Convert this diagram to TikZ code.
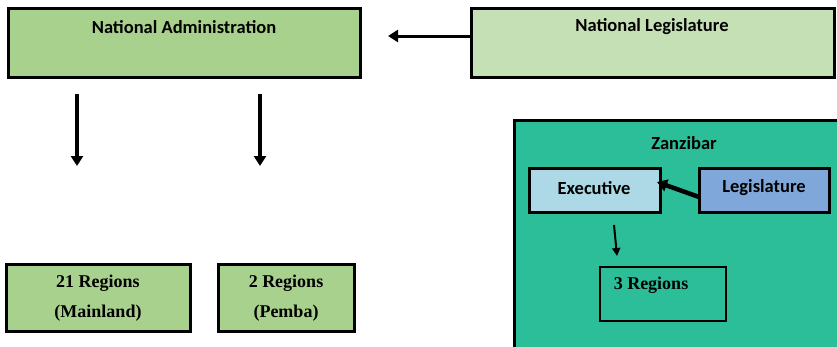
\documentclass[tikz,border=0pt]{standalone}
\usepackage{fontspec}
\setmainfont{Carlito}
\newfontfamily\serifbold{Liberation Serif}
\usetikzlibrary{arrows.meta}
\definecolor{adminGreen}{HTML}{A9D18E}
\definecolor{legisGreen}{HTML}{C5E0B4}
\definecolor{zanTeal}{HTML}{2CBD99}
\definecolor{execBlue}{HTML}{ADD8E6}
\definecolor{legisBlue}{HTML}{7FA7D9}
\tikzset{
  box/.style={draw=black, line width=3pt},
  lbl/.style={font=\fontsize{18.5}{22}\selectfont\bfseries, inner sep=0pt},
  slbl/.style={font=\serifbold\fontsize{18}{30}\selectfont\bfseries, align=center, inner sep=0pt},
  arr/.style={-{Triangle[length=10pt,width=12pt]}, line width=3.5pt},
}
\begin{document}
\begin{tikzpicture}[x=1pt,y=-1pt]
\useasboundingbox (0,0) rectangle (837,346);
% national level
\draw[box, fill=adminGreen] (8,8) rectangle (360,77);
\node[lbl] (admin) at (184,27) {National Administration};
\coordinate (adminL) at (77,94);
\coordinate (adminR) at (260,94);
\draw[box, fill=legisGreen] (471,8) rectangle (834,77);
\node[lbl] (natleg) at (652,27) {National Legislature};
\coordinate (natlegW) at (471,36);
\coordinate (adminE) at (388,36);
\draw[arr, line width=3pt] (natlegW) -- (adminE);
% regions
\draw[box, fill=adminGreen] (6,264) rectangle (190,331);
\node[slbl] (main) at (98,298) {21 Regions\\(Mainland)};
\draw[box, fill=adminGreen] (218,264) rectangle (354,331);
\node[slbl] (pemba) at (286,298) {2 Regions\\(Pemba)};
\coordinate (mainN) at (77,166);
\coordinate (pembaN) at (260,166);
\draw[arr] (adminL) -- (mainN);
\draw[arr] (adminR) -- (pembaN);
% Zanzibar
\draw[draw=black, line width=3pt, fill=zanTeal] (514,120) rectangle (840,350);
\node[lbl] (zan) at (684,143) {Zanzibar};
\draw[box, fill=execBlue] (529,168) rectangle (660,212);
\node[lbl] (exec) at (594,188) {Executive};
\draw[box, fill=legisBlue] (699,168) rectangle (829,212);
\node[lbl] (zleg) at (764,188) {Legislature};
\coordinate (zlegW) at (699,197);
\coordinate (execE) at (657,182);
\draw[-{Triangle[length=10pt,width=12pt]}, line width=4.5pt] (zlegW) -- (execE);
\draw[box, line width=2.5pt] (600,267) rectangle (726,321);
\node[slbl] (three) at (651,285) {3 Regions};
\coordinate (execS) at (614,225);
\coordinate (threeN) at (617,256);
\draw[-{Triangle[length=8pt,width=8pt]}, line width=2pt] (execS) -- (threeN);
\end{tikzpicture}
\end{document}
